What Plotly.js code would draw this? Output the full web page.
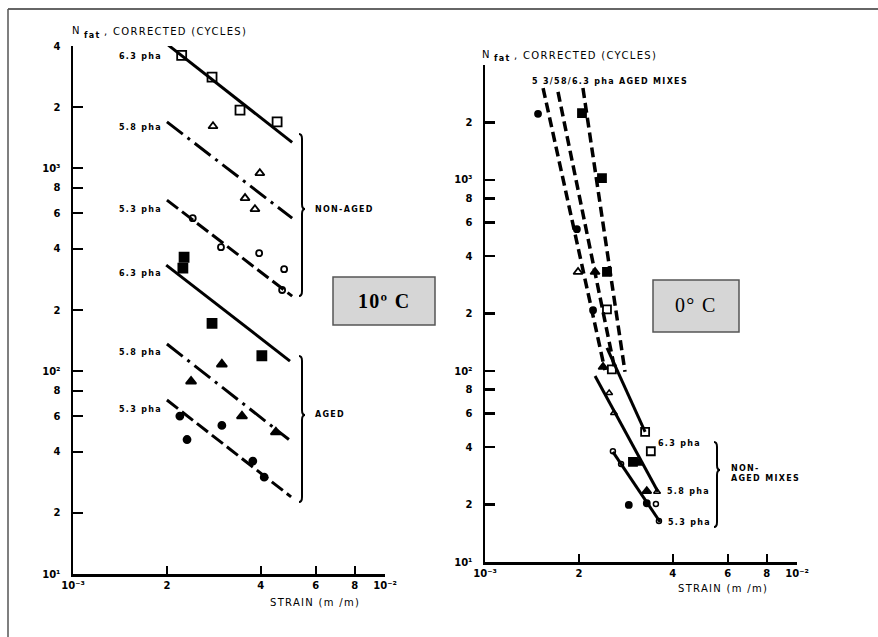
<!DOCTYPE html>
<html>
<head>
<meta charset="utf-8">
<script src="https://cdn.plot.ly/plotly-3.0.1.min.js"></script>
<style>
html,body{margin:0;padding:0;background:#fff;}
#chart{width:878px;height:637px;}
.annotation-text{letter-spacing:1.3px;}
</style>
</head>
<body>
<div id="chart"></div>
<script>
// ---------------- DATA: 10 °C panel ----------------
// non-aged
const s10_na63 = [0.00223, 0.00279, 0.00343, 0.00451];
const n10_na63 = [3600, 2810, 1930, 1690];
const fit10_na63_s = [0.00202, 0.00504];
const fit10_na63_n = [4040, 1340];

const s10_na58 = [0.00281, 0.00397, 0.00356, 0.00383];
const n10_na58 = [1610, 945, 712, 628];
const fit10_na58_s = [0.00200, 0.00504];
const fit10_na58_n = [1690, 567];

const s10_na53 = [0.00242, 0.00298, 0.00395, 0.00475, 0.00468];
const n10_na53 = [567, 408, 381, 318, 251];
const fit10_na53_s = [0.00200, 0.00504];
const fit10_na53_n = [696, 234];

// aged
const s10_a63 = [0.00227, 0.00225, 0.00279, 0.00403];
const n10_a63 = [364, 322, 172, 119];
const fit10_a63_s = [0.00199, 0.00496];
const fit10_a63_n = [333, 112];

const s10_a58 = [0.00300, 0.00239, 0.00348, 0.00447];
const n10_a58 = [108, 89, 60, 50];
const fit10_a58_s = [0.00200, 0.00492];
const fit10_a58_n = [136, 46];

const s10_a53 = [0.00220, 0.00232, 0.00300, 0.00377, 0.00410];
const n10_a53 = [60, 46, 54, 36, 30];
const fit10_a53_s = [0.00200, 0.00500];
const fit10_a53_n = [72, 24];

// ---------------- DATA: 0 °C panel ----------------
// aged mixes (dashed fits)
const fit0_a53_s = [0.001535, 0.002424];
const fit0_a53_n = [3030, 101];
const fit0_a58_s = [0.001714, 0.00261];
const fit0_a58_n = [2890, 101];
const fit0_a63_s = [0.00206, 0.00281];
const fit0_a63_n = [3030, 99];

const s0_a53 = [0.001479, 0.00197, 0.00222, 0.00289, 0.00330];
const n0_a53 = [2220, 553, 208, 19.9, 20.3];
const s0_a58 = [0.002253, 0.00239, 0.00309, 0.00330];
const n0_a58 = [330, 105, 33, 23.5];
const s0_a58open = [0.001987];
const n0_a58open = [330];
const s0_a63 = [0.002046, 0.002371, 0.00246, 0.00298];
const n0_a63 = [2240, 1024, 330, 33.4];

// non-aged mixes (solid fits)
const s0_na63 = [0.00246, 0.00255, 0.00326, 0.00340];
const n0_na63 = [210, 102, 48, 38];
const fit0_na63_s = [0.00246, 0.00326];
const fit0_na63_n = [132, 48];

const s0_na58 = [0.00250, 0.00259, 0.00356];
const n0_na58 = [76.7, 60.3, 23.3];
const fit0_na58_s = [0.002253, 0.003585];
const fit0_na58_n = [94.2, 23.3];

const s0_na53 = [0.00257, 0.00273, 0.00353, 0.00361];
const n0_na53 = [38, 32.6, 20.1, 16.4];
const fit0_na53_s = [0.00257, 0.00364];
const fit0_na53_n = [37.7, 16.2];

// tick labels
const xTickVals = [0.001, 0.002, 0.004, 0.006, 0.008, 0.01];
const xTickText = ['10⁻³', '2', '4', '6', '8', '10⁻²'];
const yTickValsL = [10, 20, 40, 60, 80, 100, 200, 400, 600, 800, 1000, 2000, 4000];
const yTickTextL = ['10¹', '2', '4', '6', '8', '10²', '2', '4', '6', '8', '10³', '2', '4'];
const yTickValsR = [10, 20, 40, 60, 80, 100, 200, 400, 600, 800, 1000, 2000];
const yTickTextR = ['10¹', '2', '4', '6', '8', '10²', '2', '4', '6', '8', '10³', '2'];

// ---------------- helpers ----------------
const W = 878, H = 637;
const px = v => v / W;
const py = v => 1 - v / H;

function pts(x, y, sym, size, xa, ya, lw) {
  return {x: x, y: y, xaxis: xa, yaxis: ya, type: 'scatter', mode: 'markers', showlegend: false,
    hoverinfo: 'skip',
    marker: {symbol: sym, size: size, color: '#000', line: {color: '#000', width: lw === undefined ? 1.8 : lw}}};
}
function fit(x, y, dash, xa, ya, w) {
  return {x: x, y: y, xaxis: xa, yaxis: ya, type: 'scatter', mode: 'lines', showlegend: false,
    hoverinfo: 'skip', line: {color: '#000', width: w || 3, dash: dash}};
}

const DD = '20px,6px,3px,6px';
const DS = '14px,5px';
const DR = '10px,5px';

const traces = [
  fit(fit10_na63_s, fit10_na63_n, 'solid', 'x', 'y'),
  fit(fit10_na58_s, fit10_na58_n, DD, 'x', 'y'),
  fit(fit10_na53_s, fit10_na53_n, DS, 'x', 'y'),
  fit(fit10_a63_s, fit10_a63_n, 'solid', 'x', 'y'),
  fit(fit10_a58_s, fit10_a58_n, DD, 'x', 'y'),
  fit(fit10_a53_s, fit10_a53_n, DS, 'x', 'y'),
  pts(s10_na63, n10_na63, 'square-open', 9, 'x', 'y'),
  pts(s10_na58, n10_na58, 'triangle-up-open', 8, 'x', 'y'),
  pts(s10_na53, n10_na53, 'circle-open', 6, 'x', 'y'),
  pts(s10_a63, n10_a63, 'square', 9, 'x', 'y'),
  pts(s10_a58, n10_a58, 'triangle-up', 9, 'x', 'y'),
  pts(s10_a53, n10_a53, 'circle', 7, 'x', 'y'),

  fit(fit0_a53_s, fit0_a53_n, DR, 'x2', 'y2', 3.5),
  fit(fit0_a58_s, fit0_a58_n, DR, 'x2', 'y2', 3.5),
  fit(fit0_a63_s, fit0_a63_n, DR, 'x2', 'y2', 3.5),
  fit(fit0_na63_s, fit0_na63_n, 'solid', 'x2', 'y2'),
  fit(fit0_na58_s, fit0_na58_n, 'solid', 'x2', 'y2'),
  fit(fit0_na53_s, fit0_na53_n, 'solid', 'x2', 'y2'),
  pts(s0_a53, n0_a53, 'circle', 6, 'x2', 'y2'),
  pts(s0_a58, n0_a58, 'triangle-up', 8, 'x2', 'y2'),
  pts(s0_a58open, n0_a58open, 'triangle-up-open', 8, 'x2', 'y2'),
  pts(s0_a63, n0_a63, 'square', 8, 'x2', 'y2'),
  pts(s0_na63, n0_na63, 'square-open', 8, 'x2', 'y2'),
  pts(s0_na58, n0_na58, 'triangle-up-open', 6, 'x2', 'y2', 1.5),
  pts(s0_na53, n0_na53, 'circle-open', 5, 'x2', 'y2', 1.5)
];

const tickFont = {family: 'DejaVu Sans', size: 10, color: '#000', weight: 'bold'};
function xAxis(dom, yanchor) {
  return {type: 'log', domain: dom, range: [-3, -2], anchor: yanchor,
    showline: true, linecolor: '#000', linewidth: 2.5, ticks: 'inside', ticklen: 8, tickwidth: 2.5,
    tickcolor: '#000', showgrid: false, zeroline: false, tickvals: xTickVals, ticktext: xTickText,
    tickfont: tickFont, fixedrange: true};
}
function yAxis(dom, xanchor, vals, text) {
  return {type: 'log', domain: dom, range: [1, Math.log10(4000)], anchor: xanchor,
    showline: true, linecolor: '#000', linewidth: 2.5, ticks: 'inside', ticklen: 10, tickwidth: 2.5,
    tickcolor: '#000', showgrid: false, zeroline: false, tickvals: vals, ticktext: text,
    tickfont: tickFont, ticklabelstandoff: 8, fixedrange: true};
}

function brace(x0, y1, y2, ym, w) {
  const d = w || 6;
  const xs = x0 + d / 2, xt = x0 + d;
  const p = (a, b) => px(a) + ',' + py(b);
  return 'M' + p(x0, y1) + ' Q' + p(xs, y1) + ' ' + p(xs, y1 + 5) +
    ' L' + p(xs, ym - 5) + ' Q' + p(xs, ym) + ' ' + p(xt, ym) +
    ' Q' + p(xs, ym) + ' ' + p(xs, ym + 5) +
    ' L' + p(xs, y2 - 5) + ' Q' + p(xs, y2) + ' ' + p(x0, y2);
}

const shapes = [
  {type: 'line', xref: 'paper', yref: 'paper', x0: px(8), x1: px(878), y0: py(9), y1: py(9), line: {color: '#333', width: 1.5}},
  {type: 'line', xref: 'paper', yref: 'paper', x0: px(8), x1: px(8), y0: py(9), y1: py(637), line: {color: '#555', width: 1.5}},
  {type: 'rect', xref: 'paper', yref: 'paper', x0: px(333), x1: px(435), y0: py(277), y1: py(325), fillcolor: '#d6d6d6', line: {color: '#555', width: 1.5}, layer: 'below'},
  {type: 'rect', xref: 'paper', yref: 'paper', x0: px(653), x1: px(739), y0: py(280), y1: py(332), fillcolor: '#d6d6d6', line: {color: '#555', width: 1.5}, layer: 'below'},
  {type: 'path', xref: 'paper', yref: 'paper', path: brace(299, 134, 296, 209), line: {color: '#000', width: 2}},
  {type: 'path', xref: 'paper', yref: 'paper', path: brace(299, 356, 502, 415), line: {color: '#000', width: 2}},
  {type: 'path', xref: 'paper', yref: 'paper', path: brace(714, 442, 527, 470), line: {color: '#000', width: 2}}
];

const lblFont = {family: 'DejaVu Sans', size: 8, color: '#000', weight: 'bold'};
const axFont = {family: 'DejaVu Sans', size: 10, color: '#000'};
const subFont = {family: 'DejaVu Sans', size: 8, color: '#000', weight: 'bold'};
function ann(text, x, y, xa, font) {
  return {text: text, xref: 'paper', yref: 'paper', x: px(x), y: py(y), xanchor: xa, yanchor: 'middle',
    showarrow: false, font: font || lblFont, align: 'left'};
}

const annotations = [
  ann('N', 70, 31, 'left', axFont),
  ann('fat', 82, 35, 'left', subFont),
  ann(', CORRECTED (CYCLES)', 102, 32, 'left', axFont),
  ann('6.3 pha', 164, 56, 'right'),
  ann('5.8 pha', 164, 128, 'right'),
  ann('5.3 pha', 164, 210, 'right'),
  ann('6.3 pha', 164, 274, 'right'),
  ann('5.8 pha', 164, 352, 'right'),
  ann('5.3 pha', 164, 409, 'right'),
  ann('NON-AGED', 313, 210, 'left'),
  ann('AGED', 313, 414, 'left'),
  ann('STRAIN (m /m)', 268, 602, 'left', axFont),
  ann('<b>10º C</b>', 384, 301, 'center', {family: 'Liberation Serif', size: 20, color: '#000'}),

  ann('N', 480, 54, 'left', axFont),
  ann('fat', 492, 58, 'left', subFont),
  ann(', CORRECTED (CYCLES)', 512, 55, 'left', axFont),
  ann('5 3/58/6.3 pha AGED MIXES', 530, 81, 'left'),
  ann('6.3 pha', 656, 443, 'left'),
  ann('5.8 pha', 665, 492, 'left'),
  ann('5.3 pha', 666, 522, 'left'),
  ann('NON-<br>AGED MIXES', 729, 473, 'left'),
  ann('STRAIN (m /m)', 676, 588, 'left', axFont),
  ann('0° C', 696, 305, 'center', {family: 'Liberation Serif', size: 20, color: '#000'})
];

const layout = {
  width: W, height: H,
  margin: {l: 0, r: 0, t: 0, b: 0},
  paper_bgcolor: '#fff', plot_bgcolor: 'rgba(0,0,0,0)',
  showlegend: false,
  xaxis: xAxis([px(73), px(385)], 'y'),
  yaxis: yAxis([py(574), py(46)], 'x', yTickValsL, yTickTextL),
  xaxis2: xAxis([px(485), px(797)], 'y2'),
  yaxis2: yAxis([py(562), py(65)], 'x2', yTickValsR, yTickTextR),
  shapes: shapes,
  annotations: annotations
};

Plotly.newPlot('chart', traces, layout, {displayModeBar: false, staticPlot: true});
</script>
</body>
</html>
